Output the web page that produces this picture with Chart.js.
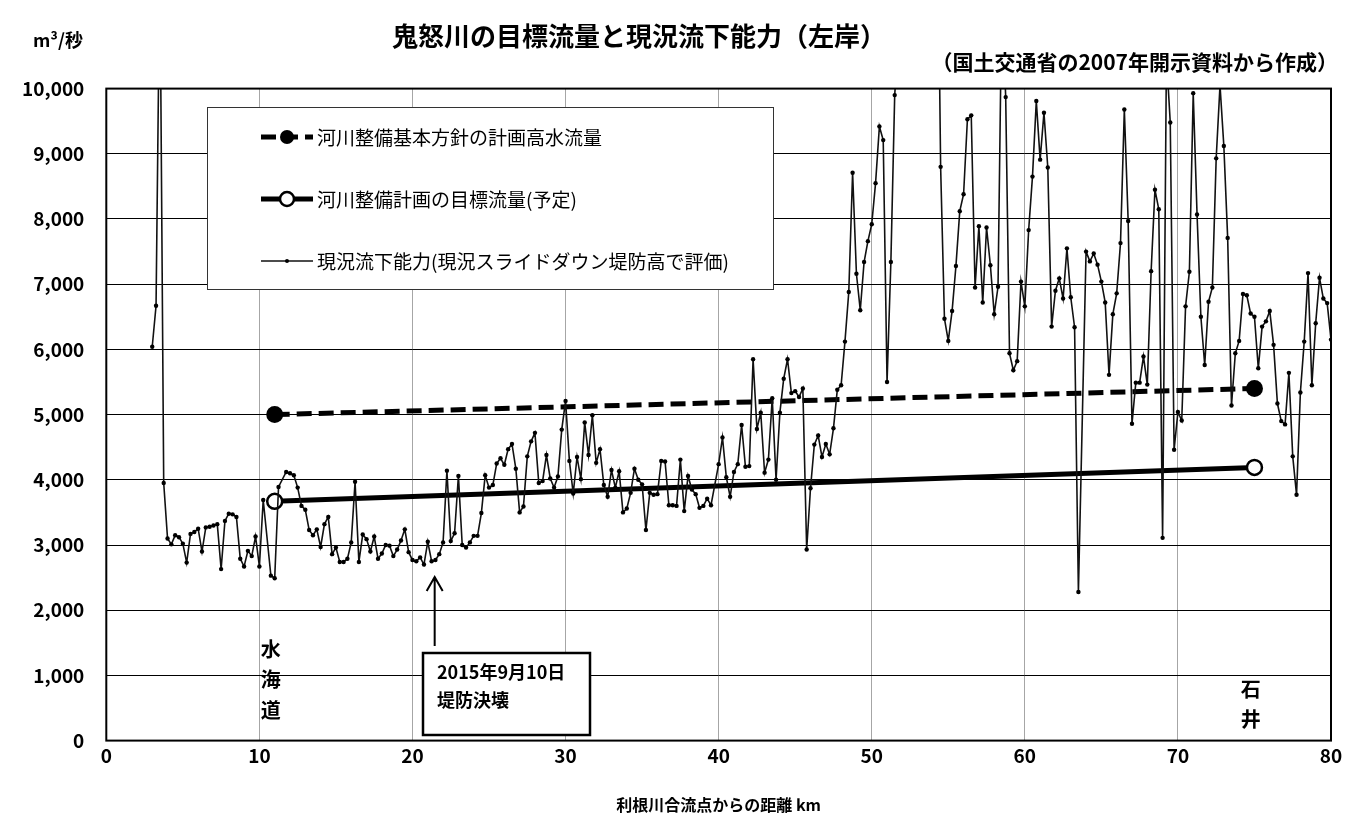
<!DOCTYPE html>
<html lang="ja">
<head>
<meta charset="utf-8">
<title>鬼怒川の目標流量と現況流下能力(左岸)</title>
<script src="https://cdn.jsdelivr.net/npm/chart.js@4.4.1/dist/chart.umd.min.js"></script>
<style>
  html, body { margin: 0; padding: 0; background: #fff; }
  #wrap { width: 1352px; height: 816px; }
  canvas { display: block; }
</style>
</head>
<body>
<div id="wrap"><canvas id="chart" width="1352" height="816"></canvas></div>
<script>
// 利根川合流点からの距離 (km) と 現況流下能力 (m³/秒)
const kmCapacity = [
  3.00, 3.25, 3.50, 3.75, 4.00, 4.25, 4.50, 4.75, 5.00, 5.25, 5.50, 5.75, 6.00, 6.25, 6.50, 6.75,
  7.00, 7.25, 7.50, 7.75, 8.00, 8.25, 8.50, 8.75, 9.00, 9.25, 9.50, 9.75, 10.00, 10.25, 10.75, 11.00,
  11.25, 11.75, 12.00, 12.25, 12.50, 12.75, 13.00, 13.25, 13.50, 13.75, 14.00, 14.25, 14.50, 14.75,
  15.00, 15.25, 15.50, 15.75, 16.00, 16.25, 16.50, 16.75, 17.00, 17.25, 17.50, 17.75, 18.00, 18.25,
  18.50, 18.75, 19.00, 19.25, 19.50, 19.75, 20.00, 20.25, 20.50, 20.75, 21.00, 21.25, 21.50, 21.75,
  22.00, 22.25, 22.50, 22.75, 23.00, 23.25, 23.50, 23.75, 24.00, 24.25, 24.50, 24.75, 25.00, 25.25,
  25.50, 25.75, 26.00, 26.25, 26.50, 26.75, 27.00, 27.25, 27.50, 27.75, 28.00, 28.25, 28.50, 28.75,
  29.00, 29.25, 29.50, 29.75, 30.00, 30.25, 30.50, 30.75, 31.00, 31.25, 31.50, 31.75, 32.00, 32.25,
  32.50, 32.75, 33.00, 33.25, 33.50, 33.75, 34.00, 34.25, 34.50, 34.75, 35.00, 35.25, 35.50, 35.75,
  36.00, 36.25, 36.50, 36.75, 37.00, 37.25, 37.50, 37.75, 38.00, 38.25, 38.50, 38.75, 39.00, 39.25,
  39.50, 40.00, 40.25, 40.50, 40.75, 41.00, 41.25, 41.50, 41.75, 42.00, 42.25, 42.50, 42.75, 43.00,
  43.25, 43.50, 43.75, 44.00, 44.25, 44.50, 44.75, 45.00, 45.25, 45.50, 45.75, 46.00, 46.25, 46.50,
  46.75, 47.00, 47.25, 47.50, 47.75, 48.00, 48.25, 48.50, 48.75, 49.00, 49.25, 49.50, 49.75, 50.00,
  50.25, 50.50, 50.75, 51.00, 51.25, 51.50, 51.75, 54.25, 54.50, 54.75, 55.00, 55.25, 55.50, 55.75,
  56.00, 56.25, 56.50, 56.75, 57.00, 57.25, 57.50, 57.75, 58.00, 58.25, 58.50, 58.75, 59.00, 59.25,
  59.50, 59.75, 60.00, 60.25, 60.50, 60.75, 61.00, 61.25, 61.50, 61.75, 62.00, 62.25, 62.50, 62.75,
  63.00, 63.25, 63.50, 64.00, 64.25, 64.50, 64.75, 65.00, 65.25, 65.50, 65.75, 66.00, 66.25, 66.50,
  66.75, 67.00, 67.25, 67.50, 67.75, 68.00, 68.25, 68.50, 68.75, 69.00, 69.25, 69.50, 69.75, 70.00,
  70.25, 70.50, 70.75, 71.00, 71.25, 71.50, 71.75, 72.00, 72.25, 72.50, 72.75, 73.00, 73.25, 73.50,
  73.75, 74.00, 74.25, 74.50, 74.75, 75.00, 75.25, 75.50, 75.75, 76.00, 76.25, 76.50, 76.75, 77.00,
  77.25, 77.50, 77.75, 78.00, 78.25, 78.50, 78.75, 79.00, 79.25, 79.50, 79.75, 80.00
];
const capacity = [
  6040, 6670, 12000, 3950, 3100, 3010, 3150, 3120, 3020, 2730, 3170, 3200, 3250, 2900, 3270, 3280,
  3300, 3320, 2630, 3370, 3480, 3470, 3430, 2790, 2670, 2910, 2830, 3130, 2670, 3690, 2530, 2490,
  3890, 4120, 4100, 4070, 3880, 3600, 3540, 3230, 3150, 3240, 2970, 3320, 3430, 2860,
  2960, 2740, 2740, 2790, 3040, 3970, 2740, 3160, 3090, 2900, 3130, 2790, 2870, 3000,
  2990, 2830, 2930, 3070, 3240, 2890, 2770, 2750, 2810, 2700, 3050, 2750, 2770, 2860,
  3040, 4140, 3060, 3180, 4060, 3000, 2960, 3040, 3140, 3140, 3490, 4070, 3880, 3920,
  4250, 4330, 4230, 4470, 4550, 4170, 3500, 3590, 4360, 4590, 4720, 3950, 3980, 4380,
  4020, 3880, 4050, 4770, 5210, 4290, 3790, 4350, 4010, 4880, 4380, 4990, 4260, 4470,
  3920, 3740, 4150, 3880, 4130, 3500, 3560, 3800, 4170, 4000, 3930, 3230, 3800, 3770,
  3780, 4290, 4280, 3610, 3610, 3600, 4310, 3520, 4060, 3850, 3780, 3570, 3600, 3710,
  3610, 4240, 4650, 4040, 3740, 4120, 4240, 4840, 4200, 4210, 5850, 4780, 5030, 4110,
  4310, 5250, 4000, 5030, 5550, 5850, 5330, 5360, 5270, 5400, 2930, 3870, 4540, 4680,
  4350, 4550, 4390, 4790, 5380, 5450, 6120, 6880, 8710, 7160, 6600, 7340, 7660, 7920,
  8550, 9420, 9210, 5500, 7340, 9900, 10800, 13800, 8800, 6470, 6130, 6590, 7280, 8120,
  8380, 9530, 9590, 6950, 7890, 6720, 7870, 7290, 6540, 6960, 11500, 9870, 5940, 5680,
  5820, 7040, 6660, 7830, 8650, 9810, 8910, 9630, 8790, 6350, 6900, 7090, 6780, 7550,
  6800, 6340, 2280, 7500, 7350, 7470, 7300, 7040, 6720, 5610, 6540, 6860, 7630, 9680,
  7970, 4860, 5490, 5490, 5890, 5460, 7200, 8450, 8150, 3110, 10500, 9480, 4460, 5040,
  4910, 6660, 7190, 9930, 8070, 6500, 5760, 6730, 6950, 8930, 10050, 9120, 7710, 5140,
  5940, 6130, 6850, 6830, 6550, 6500, 5710, 6350, 6430, 6590, 6070, 5170, 4900, 4850,
  5640, 4360, 3770, 5340, 6120, 7170, 5450, 6400, 7100, 6780, 6710, 6150
];

// 河川整備基本方針の計画高水流量 (水海道 → 石井)
const kmPlan = [11.0, 75.0];
const planHighWater = [5000, 5400];

// 河川整備計画の目標流量 (予定)
const kmTarget = [11.0, 75.0];
const targetFlow = [3670, 4190];

// 軸目盛
const xTicks = [0, 10, 20, 30, 40, 50, 60, 70, 80];
const yTicks = [0, 1000, 2000, 3000, 4000, 5000, 6000, 7000, 8000, 9000, 10000];

const seriesLabels = [
  '河川整備基本方針の計画高水流量',
  '河川整備計画の目標流量(予定)',
  '現況流下能力(現況スライドダウン堤防高で評価)'
];

const JP = '"Noto Sans CJK JP", "Noto Sans", sans-serif';

const toPoints = (xs, ys) => xs.map((x, i) => ({ x, y: ys[i] }));

// 枠・凡例・注記・見出し
const decorations = {
  id: 'decorations',
  afterDatasetsDraw(chart) {
    const { ctx, chartArea: a, scales: { x, y } } = chart;
    const ds = chart.data.datasets;
    ctx.save();

    // プロット枠
    ctx.strokeStyle = '#000';
    ctx.lineWidth = 2;
    ctx.strokeRect(a.left, a.top, a.right - a.left, a.bottom - a.top);

    // 凡例
    const box = { left: 207, top: 107, right: 773, bottom: 289 };
    ctx.fillStyle = '#fff';
    ctx.fillRect(box.left, box.top, box.right - box.left, box.bottom - box.top);
    ctx.strokeStyle = '#333';
    ctx.lineWidth = 1;
    ctx.strokeRect(box.left + 0.5, box.top + 0.5, box.right - box.left, box.bottom - box.top);

    const rows = [137, 199, 261];
    const x0 = 261, x1 = 313, xm = 287;
    ds.forEach((d, r) => {
      const yy = rows[r];
      ctx.save();
      ctx.strokeStyle = d.borderColor;
      ctx.lineWidth = d.borderWidth;
      ctx.setLineDash(d.borderDash || []);
      ctx.beginPath();
      ctx.moveTo(x0, yy);
      ctx.lineTo(x1, yy);
      ctx.stroke();
      ctx.setLineDash([]);
      const pr = r === 2 ? 2 : 7;
      ctx.beginPath();
      ctx.arc(xm, yy, pr, 0, Math.PI * 2);
      ctx.fillStyle = d.pointBackgroundColor;
      ctx.fill();
      if (d.pointBorderWidth) {
        ctx.lineWidth = d.pointBorderWidth;
        ctx.strokeStyle = d.pointBorderColor;
        ctx.stroke();
      }
      ctx.restore();
      ctx.fillStyle = '#000';
      ctx.font = '19px ' + JP;
      ctx.textAlign = 'left';
      ctx.textBaseline = 'middle';
      ctx.fillText(d.label, 317, yy + 1);
    });

    // 地点名 (縦書き)
    ctx.fillStyle = '#000';
    ctx.font = 'bold 20px ' + JP;
    ctx.textAlign = 'center';
    ctx.textBaseline = 'middle';
    const suikaido = ['水', '海', '道'];
    [649, 679, 710].forEach((py, i) => ctx.fillText(suikaido[i], x.getPixelForValue(10.75), py));
    const ishii = ['石', '井'];
    [689, 719].forEach((py, i) => ctx.fillText(ishii[i], x.getPixelForValue(74.75), py));

    // 決壊地点の矢印
    const ax = x.getPixelForValue(21.45);
    const aTop = y.getPixelForValue(2510);
    const aBot = y.getPixelForValue(1450);
    ctx.strokeStyle = '#000';
    ctx.lineWidth = 2;
    ctx.beginPath();
    ctx.moveTo(ax, aBot);
    ctx.lineTo(ax, aTop + 1);
    ctx.moveTo(ax - 8, aTop + 14);
    ctx.lineTo(ax, aTop);
    ctx.lineTo(ax + 8, aTop + 14);
    ctx.stroke();

    // 注記ボックス
    const bl = 423, bt = 653, br = 590, bb = 735;
    ctx.fillStyle = '#fff';
    ctx.fillRect(bl, bt, br - bl, bb - bt);
    ctx.lineWidth = 2.5;
    ctx.strokeRect(bl, bt, br - bl, bb - bt);
    ctx.fillStyle = '#000';
    ctx.font = 'bold 18px ' + JP;
    ctx.textAlign = 'left';
    ctx.fillText('2015年9月10日', 437, 672);
    ctx.fillText('堤防決壊', 437, 700);

    ctx.restore();
  },
  afterDraw(chart) {
    const { ctx, chartArea: a } = chart;
    ctx.save();
    ctx.fillStyle = '#000';
    ctx.textBaseline = 'middle';

    ctx.font = 'bold 26px ' + JP;
    ctx.textAlign = 'center';
    ctx.fillText('鬼怒川の目標流量と現況流下能力（左岸）', 639, 36);

    ctx.font = 'bold 21px ' + JP;
    ctx.textAlign = 'right';
    ctx.fillText('（国土交通省の2007年開示資料から作成）', 1338, 62);

    ctx.font = 'bold 18px ' + JP;
    ctx.textAlign = 'left';
    ctx.fillText('m³/秒', 33, 40);

    ctx.font = 'bold 16px ' + JP;
    ctx.textAlign = 'center';
    ctx.fillText('利根川合流点からの距離 km', (a.left + a.right) / 2, 805);
    ctx.restore();
  }
};

new Chart(document.getElementById('chart'), {
  type: 'line',
  data: {
    datasets: [
      {
        label: seriesLabels[0],
        data: toPoints(kmPlan, planHighWater),
        borderColor: '#000',
        borderWidth: 5,
        borderDash: [15, 7],
        pointRadius: 8.5,
        pointBackgroundColor: '#000',
        pointBorderColor: '#000',
        pointBorderWidth: 0,
        order: 3
      },
      {
        label: seriesLabels[1],
        data: toPoints(kmTarget, targetFlow),
        borderColor: '#000',
        borderWidth: 5,
        pointRadius: 7.5,
        pointBackgroundColor: '#fff',
        pointBorderColor: '#000',
        pointBorderWidth: 2.5,
        order: 2
      },
      {
        label: seriesLabels[2],
        data: toPoints(kmCapacity, capacity),
        borderColor: '#111',
        borderWidth: 1.6,
        pointRadius: 2.2,
        pointBackgroundColor: '#000',
        pointBorderColor: '#000',
        pointBorderWidth: 0,
        clip: 0,
        order: 1
      }
    ]
  },
  options: {
    responsive: false,
    animation: false,
    devicePixelRatio: 1,
    layout: { padding: { top: 88.6, right: 21, left: 0, bottom: 0 } },
    plugins: {
      legend: { display: false },
      title: { display: false },
      tooltip: { enabled: false }
    },
    elements: { line: { tension: 0 } },
    scales: {
      x: {
        type: 'linear',
        min: xTicks[0],
        max: xTicks[xTicks.length - 1],
        afterBuildTicks: s => { s.ticks = xTicks.map(v => ({ value: v })); },
        ticks: {
          color: '#000',
          font: { family: JP, size: 19, weight: 'bold' },
          padding: 4,
          maxRotation: 0
        },
        grid: { color: '#a6a6a6', lineWidth: 1, drawTicks: false },
        border: { display: false },
        afterFit: s => { s.height = 75.4; }
      },
      y: {
        min: yTicks[0],
        max: yTicks[yTicks.length - 1],
        afterBuildTicks: s => { s.ticks = yTicks.map(v => ({ value: v })); },
        ticks: {
          color: '#000',
          font: { family: JP, size: 19, weight: 'bold' },
          padding: 22,
          callback: v => v.toLocaleString('en-US')
        },
        grid: { color: '#000', lineWidth: 1, drawTicks: false },
        border: { display: false },
        afterFit: s => { s.width = 106.3; }
      }
    }
  },
  plugins: [decorations]
});
</script>
</body>
</html>
